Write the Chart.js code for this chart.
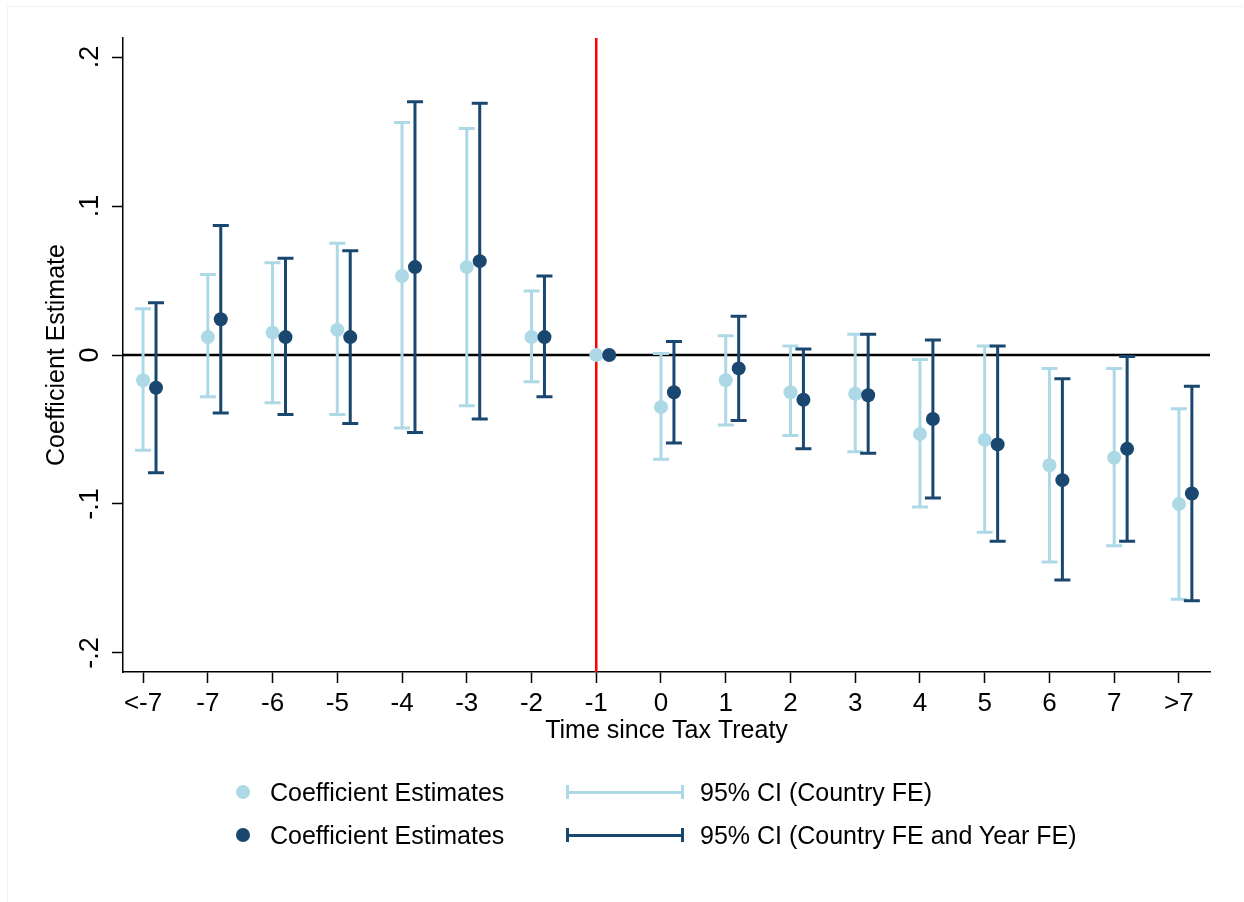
<!DOCTYPE html>
<html>
<head>
<meta charset="utf-8">
<script src="https://cdn.jsdelivr.net/npm/chart.js@4.4.0/dist/chart.umd.min.js"></script>
<style>
  body { margin: 0; background: #fff; }
  #wrap { position: relative; width: 1244px; height: 902px; }
  #frame { position: absolute; left: 7px; top: 6px; width: 1236px; height: 900px; border: 1px solid #eef2f3; border-right: none; border-bottom: none; box-sizing: border-box; pointer-events: none; }
  #myChart { position: absolute; left: 0; top: 0; }
  .lg { position: absolute; font-family: "Liberation Sans", Arial, Helvetica, sans-serif; font-size: 25px; line-height: 30px; color: #000; white-space: nowrap; }
  .dot { position: absolute; width: 14px; height: 14px; border-radius: 50%; }
  .bar { position: absolute; height: 3px; }
  .cap { position: absolute; width: 3px; height: 14px; }
</style>
</head>
<body>
<div id="wrap">
  <div id="frame"></div>
  <canvas id="myChart" width="1244" height="902"></canvas>
  <div id="legend"></div>
</div>
<script>
// categories on the x axis (event time)
const categories = ['<-7', '-7', '-6', '-5', '-4', '-3', '-2', '-1', '0', '1', '2', '3', '4', '5', '6', '7', '>7'];

// Country FE (light blue)
const lightEst  = [-0.017, 0.012, 0.015, 0.017, 0.053, 0.059, 0.012, 0, -0.035, -0.017, -0.025, -0.026, -0.053, -0.057, -0.074, -0.069, -0.100];
const lightHigh = [0.031, 0.054, 0.062, 0.075, 0.156, 0.152, 0.043, null, 0.001, 0.013, 0.006, 0.014, -0.003, 0.006, -0.009, -0.009, -0.036];
const lightLow  = [-0.064, -0.028, -0.032, -0.040, -0.049, -0.034, -0.018, null, -0.070, -0.047, -0.054, -0.065, -0.102, -0.119, -0.139, -0.128, -0.164];

// Country FE and Year FE (dark blue)
const darkEst  = [-0.022, 0.024, 0.012, 0.012, 0.059, 0.063, 0.012, 0, -0.025, -0.009, -0.030, -0.027, -0.043, -0.060, -0.084, -0.063, -0.093];
const darkHigh = [0.035, 0.087, 0.065, 0.070, 0.170, 0.169, 0.053, null, 0.009, 0.026, 0.004, 0.014, 0.010, 0.006, -0.016, -0.001, -0.021];
const darkLow  = [-0.079, -0.039, -0.040, -0.046, -0.052, -0.043, -0.028, null, -0.059, -0.044, -0.063, -0.066, -0.096, -0.125, -0.151, -0.125, -0.165];

const yTickValues = [-0.2, -0.1, 0, 0.1, 0.2];
const yTickLabels = ['-.2', '-.1', '0', '.1', '.2'];

const legendDots = ['Coefficient Estimates', 'Coefficient Estimates'];
const legendCIs = ['95% CI (Country FE)', '95% CI (Country FE and Year FE)'];

const lightBlue = '#add8e6';
const darkBlue = '#1a476f';
const treatIndex = categories.indexOf('-1');
const darkShift = 0.2;

const fontFamily = '"Liberation Sans", Arial, Helvetica, sans-serif';

// error bars, zero line and treaty line
const refLines = {
  id: 'refLines',
  beforeDatasetsDraw(chart) {
    const { ctx, chartArea, scales: { x, y } } = chart;
    ctx.save();
    // zero line
    ctx.strokeStyle = '#000';
    ctx.lineWidth = 2.5;
    ctx.beginPath();
    ctx.moveTo(chartArea.left, y.getPixelForValue(0));
    ctx.lineTo(chartArea.right, y.getPixelForValue(0));
    ctx.stroke();
    // treaty year
    ctx.strokeStyle = '#ff0000';
    ctx.lineWidth = 2.5;
    ctx.beginPath();
    ctx.moveTo(x.getPixelForValue(treatIndex), chartArea.top);
    ctx.lineTo(x.getPixelForValue(treatIndex), chartArea.bottom);
    ctx.stroke();
    // confidence intervals
    chart.data.datasets.forEach((ds) => {
      ctx.strokeStyle = ds.backgroundColor;
      ctx.lineWidth = 3;
      ds.data.forEach((p, i) => {
        if (ds.ciLow[i] === null) return;
        const px = x.getPixelForValue(p.x);
        const yl = y.getPixelForValue(ds.ciLow[i]);
        const yh = y.getPixelForValue(ds.ciHigh[i]);
        ctx.beginPath();
        ctx.moveTo(px, yl);
        ctx.lineTo(px, yh);
        ctx.moveTo(px - 8, yl);
        ctx.lineTo(px + 8, yl);
        ctx.moveTo(px - 8, yh);
        ctx.lineTo(px + 8, yh);
        ctx.stroke();
      });
    });
    ctx.restore();
  }
};

const ctx = document.getElementById('myChart').getContext('2d');
const myChart = new Chart(ctx, {
  type: 'scatter',
  data: {
    datasets: [
      {
        label: legendDots[0],
        data: lightEst.map((v, i) => ({ x: i, y: v })),
        ciLow: lightLow,
        ciHigh: lightHigh,
        backgroundColor: lightBlue,
        pointRadius: 7,
        pointBorderWidth: 0,
        order: 1,
      },
      {
        label: legendDots[1],
        data: darkEst.map((v, i) => ({ x: i + darkShift, y: v })),
        ciLow: darkLow,
        ciHigh: darkHigh,
        backgroundColor: darkBlue,
        pointRadius: 7,
        pointBorderWidth: 0,
        order: 0,
      },
    ],
  },
  options: {
    responsive: false,
    devicePixelRatio: 1,
    animation: false,
    events: [],
    layout: { padding: { top: 38, right: 34, left: 0, bottom: 150 } },
    plugins: { legend: { display: false }, tooltip: { enabled: false } },
    scales: {
      x: {
        type: 'linear',
        min: -0.31,
        max: 16.48,
        afterBuildTicks: (scale) => { scale.ticks = categories.map((c, i) => ({ value: i })); },
        afterFit: (scale) => { scale.height = 80; },
        ticks: {
          autoSkip: false,
          maxRotation: 0,
          padding: 5,
          color: '#000',
          font: { family: fontFamily, size: 26 },
          callback: (value, index) => categories[index],
        },
        grid: { drawOnChartArea: false, drawTicks: true, tickLength: 11, tickColor: '#000', tickWidth: 1.5 },
        border: { display: true, color: '#000', width: 1.5 },
        title: {
          display: true,
          text: 'Time since Tax Treaty',
          color: '#000',
          font: { family: fontFamily, size: 25 },
          padding: { top: 0, bottom: 6 },
        },
      },
      y: {
        min: -0.2128,
        max: 0.2128,
        afterBuildTicks: (scale) => { scale.ticks = yTickValues.map((v) => ({ value: v })); },
        afterFit: (scale) => { scale.width = 123; },
        ticks: {
          minRotation: 90,
          maxRotation: 90,
          crossAlign: 'center',
          padding: 6,
          color: '#000',
          font: { family: fontFamily, size: 27 },
          callback: (value, index) => yTickLabels[index],
        },
        grid: { drawOnChartArea: false, drawTicks: true, tickLength: 11, tickColor: '#000', tickWidth: 1.5 },
        border: { display: true, color: '#000', width: 1.5 },
        title: {
          display: true,
          text: 'Coefficient Estimate',
          color: '#000',
          font: { family: fontFamily, size: 25 },
          padding: { top: 42, bottom: 0 },
        },
      },
    },
  },
  plugins: [refLines],
});

// legend below the plot
const legend = document.getElementById('legend');
const rowY = [792, 835];
const colors = [lightBlue, darkBlue];
rowY.forEach((yy, i) => {
  legend.insertAdjacentHTML('beforeend',
    `<div class="dot" style="left:${243 - 7}px;top:${yy - 7}px;background:${colors[i]}"></div>` +
    `<div class="lg" style="left:270px;top:${yy - 15}px">${legendDots[i]}</div>` +
    `<div class="bar" style="left:567px;width:116px;top:${yy - 1.5}px;background:${colors[i]}"></div>` +
    `<div class="cap" style="left:566px;top:${yy - 7}px;background:${colors[i]}"></div>` +
    `<div class="cap" style="left:681px;top:${yy - 7}px;background:${colors[i]}"></div>` +
    `<div class="lg" style="left:700px;top:${yy - 15}px">${legendCIs[i]}</div>`);
});
</script>
</body>
</html>
